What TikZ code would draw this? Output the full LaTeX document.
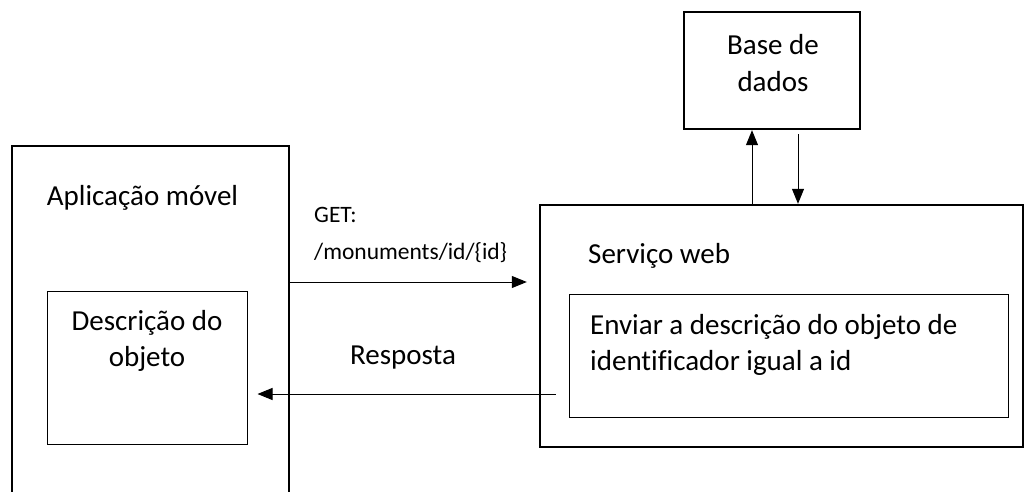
\documentclass[tikz,border=0pt]{standalone}
\usepackage{fontspec}
\setmainfont[Ligatures=NoCommon]{Carlito}
\usetikzlibrary{arrows.meta}
\tikzset{
  outerbox/.style={draw, line width=2.4pt, inner sep=0pt},
  innerbox/.style={draw, line width=1pt, inner sep=0pt},
  arr/.style={line width=1pt, -{Triangle[length=15pt,width=12pt]}},
  big/.style={font=\fontsize{29}{36.5}\selectfont, inner sep=0pt},
  small/.style={font=\fontsize{23.5}{37}\selectfont, inner sep=0pt},
}
\begin{document}
\begin{tikzpicture}[x=1pt,y=-1pt]
\useasboundingbox (0,0) rectangle (1031,492);
\clip (0,0) rectangle (1031,492);
\fill[white] (0,0) rectangle (1031,492);

% mobile application (runs off the bottom edge)
\node[outerbox, minimum width=277pt, minimum height=380pt] (app) at (150.5,336) {};
\node[big] (apptitle) at (142.5,198) {Aplicação móvel};
\node[innerbox, minimum width=200pt, minimum height=153pt] (desc) at (147,367.5) {};
\node[big, align=center] (desctext) at (147,341) {Descrição do\\objeto};

% web service
\node[outerbox, minimum width=483pt, minimum height=242pt] (web) at (781.5,326) {};
\node[big, anchor=west] (webtitle) at (588,256) {Serviço web};
\node[innerbox, minimum width=439pt, minimum height=123pt] (send) at (788.5,355.5) {};
\node[big, align=left, anchor=west] (sendtext) at (590,345) {Enviar a descrição do objeto de\\identificador igual a id};

% database
\node[outerbox, minimum width=176pt, minimum height=117pt] (db) at (772,70.5) {};
\node[big, align=center] (dbtext) at (773,63) {Base de\\dados};

% request / response
\coordinate (yget) at (0,282);
\coordinate (yres) at (0,394);
\draw[arr] (app.east |- yget) -- ([xshift=-12pt]web.west |- yget);
\node[small, align=left, anchor=west] (getlbl) at (314,235) {GET:\\/monuments/id/\{id\}};
\draw[arr] ([xshift=17pt]web.west |- yres) -- ([xshift=10pt]desc.east |- yres);
\node[big] (reslbl) at (403,358) {Resposta};

% database access
\coordinate (xup) at (752,0);
\coordinate (xdn) at (798,0);
\draw[arr] (web.north -| xup) -- (db.south -| xup);
\draw[arr] ([yshift=-4pt]db.south -| xdn) -- (web.north -| xdn);
\end{tikzpicture}
\end{document}
